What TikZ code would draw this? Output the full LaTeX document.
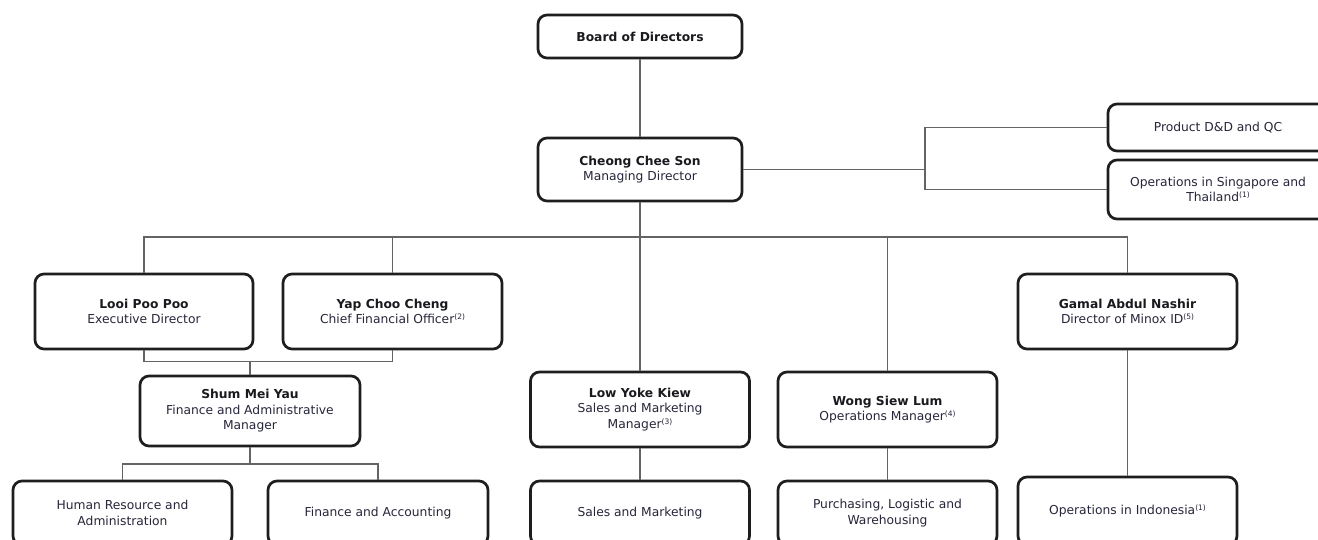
\documentclass[tikz,border=0pt]{standalone}
\usepackage{fontspec}
\setmainfont{DejaVu Sans}
\definecolor{boxc}{RGB}{30,30,30}
\definecolor{linec}{RGB}{100,100,100}
\definecolor{txt}{RGB}{38,38,58}
\definecolor{namec}{RGB}{25,25,30}
\newcommand\supnote[1]{\raisebox{0.6ex}{\fontsize{7.5}{7.5}\selectfont(#1)}}
\newcommand\pname[1]{{\bfseries\color{namec}#1}}
\begin{document}
\begin{tikzpicture}[x=1pt,y=-1pt,
  box/.style={draw=boxc, line width=2.7pt, rounded corners=9pt, minimum width=219pt, minimum height=75pt, align=center, text=txt, font=\fontsize{12.3}{15.5}\selectfont, inner sep=2pt},
  conn/.style={draw=linec, line width=1.5pt}]
\useasboundingbox (0,0) rectangle (1318,540);
\clip (0,0) rectangle (1318,540);
\fill[white] (0,0) rectangle (1318,540);

\node[box, minimum width=204pt, minimum height=43pt] (board) at (640,36.5) {\pname{Board of Directors}};
\node[box, minimum width=204pt, minimum height=63pt] (md) at (640,169.5) {\pname{Cheong Chee Son}\\Managing Director};
\node[box, minimum width=220pt, minimum height=47pt] (pdd) at (1218,127.5) {Product D\&D and QC};
\node[box, minimum width=220pt, minimum height=59pt] (sgt) at (1218,189.5) {Operations in Singapore and\\Thailand\supnote{1}};

\node[box, minimum width=218pt] (looi) at (144,311.5) {\pname{Looi Poo Poo}\\Executive Director};
\node[box] (yap) at (392.5,311.5) {\pname{Yap Choo Cheng}\\Chief Financial Officer\supnote{2}};
\node[box] (gamal) at (1127.5,311.5) {\pname{Gamal Abdul Nashir}\\Director of Minox ID\supnote{5}};

\node[box, minimum width=220pt, minimum height=70pt] (shum) at (250,411) {\pname{Shum Mei Yau}\\Finance and Administrative\\Manager};
\node[box] (low) at (640,409.5) {\pname{Low Yoke Kiew}\\Sales and Marketing\\Manager\supnote{3}};
\node[box] (wong) at (887.5,409.5) {\pname{Wong Siew Lum}\\Operations Manager\supnote{4}};

\node[box, minimum height=64pt] (hr) at (122.5,513) {Human Resource and\\Administration};
\node[box, minimum width=220pt, minimum height=64pt] (fa) at (378,513) {Finance and Accounting};
\node[box, minimum height=64pt] (sm) at (640,513) {Sales and Marketing};
\node[box, minimum height=64pt] (pur) at (887.5,513) {Purchasing, Logistic and\\Warehousing};
\node[box, minimum height=68pt] (ind) at (1127.5,511) {Operations in Indonesia\supnote{1}};

\coordinate (rb) at (925,169.5);
\coordinate (bus) at (640,237);
\coordinate (jn) at (250,361.5);
\coordinate (jn2) at (250,464);

\draw[conn] (board.south) -- (md.north);
\draw[conn] (md.east) -- (rb);
\draw[conn] (pdd.west) -| (rb);
\draw[conn] (sgt.west) -| (rb);

\draw[conn] (md.south) -- (bus);
\draw[conn] (looi.north) |- (bus);
\draw[conn] (bus) -| (gamal.north);
\draw[conn] (yap.north) -- (yap.north |- bus);
\draw[conn] (low.north) -- (bus);
\draw[conn] (wong.north) -- (wong.north |- bus);

\draw[conn] (looi.south) |- (jn);
\draw[conn] (yap.south) |- (jn);
\draw[conn] (jn) -- (shum.north);
\draw[conn] (shum.south) -- (jn2);
\draw[conn] (jn2) -| (hr.north);
\draw[conn] (jn2) -| (fa.north);

\draw[conn] (low.south) -- (sm.north);
\draw[conn] (wong.south) -- (pur.north);
\draw[conn] (gamal.south) -- (ind.north);
\end{tikzpicture}
\end{document}
